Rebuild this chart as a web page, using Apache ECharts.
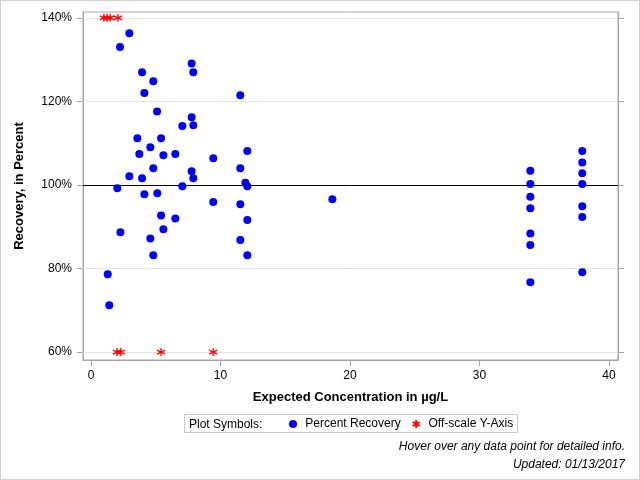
<!DOCTYPE html>
<html>
<head>
<meta charset="utf-8">
<script src="https://cdn.jsdelivr.net/npm/echarts@6/dist/echarts.min.js"></script>
<style>
  html, body { margin: 0; padding: 0; background: #fff; }
  #chart { width: 640px; height: 480px; }
</style>
</head>
<body>
<div id="chart"></div>
<script>
// tick labels
const xTicks = [0, 10, 20, 30, 40]
const yTicks = [60, 80, 100, 120, 140]

// percent recovery (blue dots)
const recConc = [
  2.96, 2.24, 7.77, 7.9, 3.94, 4.81, 4.12, 11.53, 5.1, 7.77,
  7.05, 7.9, 3.58, 5.41, 4.58, 3.73, 5.59, 6.51, 9.44, 12.07,
  4.81, 11.53, 2.96, 3.94, 7.77, 7.9, 11.92, 12.07, 7.05, 2.03,
  4.12, 5.12, 9.44, 11.53, 12.07, 5.41, 6.51, 5.59, 2.27, 4.58,
  11.53, 4.81, 12.07, 1.29, 1.41, 18.64,
  33.93, 33.93, 33.93, 33.93, 33.93, 33.93, 33.93,
  37.94, 37.94, 37.94, 37.94, 37.94, 37.94, 37.94
]
const recPct = [
  136.3, 133.0, 129.1, 127.0, 127.0, 124.8, 122.0, 121.5, 117.6, 116.2,
  114.1, 114.3, 111.2, 111.2, 109.0, 107.4, 107.1, 107.4, 106.4, 108.1,
  104.0, 104.0, 102.1, 101.6, 103.3, 101.6, 100.5, 99.7, 99.7, 99.2,
  97.8, 98.0, 95.9, 95.4, 91.6, 92.7, 92.0, 89.4, 88.7, 87.2,
  86.8, 83.2, 83.2, 78.6, 71.2, 96.6,
  103.4, 100.2, 97.2, 94.4, 88.4, 85.6, 76.7,
  108.1, 105.4, 102.8, 100.2, 94.9, 92.3, 79.1
]

// off-scale values (red asterisks), pinned to the axis ends
const offConc = [1.0, 1.24, 1.47, 2.08, 2.0, 2.3, 5.41, 9.44]
const offPct = [140, 140, 140, 140, 60, 60, 60, 60]

const gridLines = [60, 80, 120, 140]
const refLine = 100

const font = 'Liberation Sans, Arial, sans-serif'
const asterisk = 'path://M0,-1L0,1M-0.87,-0.5L0.87,0.5M-0.87,0.5L0.87,-0.5'

const chart = echarts.init(document.getElementById('chart'), null, { renderer: 'canvas' })

chart.setOption({
  backgroundColor: '#fff',
  animation: false,
  textStyle: { fontFamily: font },
  grid: {
    left: 83,
    right: 22,
    top: 12,
    bottom: 120,
    show: true,
    borderColor: '#a5a5a5',
    borderWidth: 1,
    backgroundColor: 'transparent'
  },
  xAxis: {
    type: 'value',
    min: -0.62,
    max: 40.7,
    name: 'Expected Concentration in µg/L',
    nameLocation: 'middle',
    nameGap: 31,
    nameTextStyle: { fontFamily: font, fontSize: 13, fontWeight: 'bold', color: '#000' },
    axisLine: { show: true, onZero: false, lineStyle: { color: '#a5a5a5' } },
    axisTick: { show: true, inside: false, length: 6, customValues: xTicks, lineStyle: { color: '#a5a5a5' } },
    axisLabel: { customValues: xTicks, margin: 10, fontSize: 12, color: '#000', fontFamily: font },
    splitLine: { show: false }
  },
  yAxis: [
    {
      type: 'value',
      min: 58.1,
      max: 141.4,
      name: 'Recovery, in Percent',
      nameLocation: 'middle',
      nameGap: 57,
      nameTextStyle: { fontFamily: font, fontSize: 13, fontWeight: 'bold', color: '#000' },
      axisLine: { show: true, onZero: false, lineStyle: { color: '#a5a5a5' } },
      axisTick: { show: true, length: 6, customValues: yTicks, lineStyle: { color: '#a5a5a5' } },
      axisLabel: {
        customValues: yTicks,
        margin: 11,
        fontSize: 12,
        color: '#000',
        fontFamily: font,
        formatter: (v) => v + '%'
      },
      splitLine: { show: false }
    },
    {
      type: 'value',
      position: 'right',
      min: 58.1,
      max: 141.4,
      axisLine: { show: true, onZero: false, lineStyle: { color: '#a5a5a5' } },
      axisTick: { show: true, length: 6, customValues: yTicks, lineStyle: { color: '#a5a5a5' } },
      axisLabel: { show: false },
      splitLine: { show: false }
    }
  ],
  legend: {
    left: 289,
    top: 418,
    padding: 0,
    itemWidth: 8,
    itemHeight: 8,
    itemGap: 11,
    formatter: (name) => ' ' + name,
    textStyle: { fontFamily: font, fontSize: 12, color: '#000' },
    selectedMode: false,
    data: ['Percent Recovery', 'Off-scale Y-Axis']
  },
  graphic: [
    {
      type: 'rect',
      silent: true,
      shape: { x: 0.5, y: 0.5, width: 639, height: 479 },
      style: { fill: 'none', stroke: '#d0d0d0', lineWidth: 1 }
    },
    {
      type: 'rect',
      silent: true,
      shape: { x: 184.5, y: 414.5, width: 333, height: 18 },
      style: { fill: 'none', stroke: '#c8c8c8', lineWidth: 1 }
    },
    {
      type: 'text',
      x: 189,
      y: 425,
      style: { text: 'Plot Symbols:', font: '12px ' + font, fill: '#000', verticalAlign: 'middle' }
    },
    {
      type: 'text',
      x: 625,
      y: 447,
      style: { text: 'Hover over any data point for detailed info.', font: 'italic 12px ' + font, fill: '#000', align: 'right', verticalAlign: 'middle' }
    },
    {
      type: 'text',
      x: 625,
      y: 465,
      style: { text: 'Updated: 01/13/2017', font: 'italic 12px ' + font, fill: '#000', align: 'right', verticalAlign: 'middle' }
    }
  ],
  series: [
    {
      name: 'Percent Recovery',
      type: 'scatter',
      symbol: 'circle',
      symbolSize: 8,
      itemStyle: { color: '#0000ff', opacity: 1 },
      z: 3,
      data: recConc.map((x, i) => [x, recPct[i]]),
      markLine: {
        silent: true,
        symbol: 'none',
        label: { show: false },
        z: 1,
        data: gridLines.map((v) => ({ yAxis: v, lineStyle: { color: '#e3e3e3', width: 1, type: 'solid' } }))
          .concat([{ yAxis: refLine, lineStyle: { color: '#000', width: 1, type: 'solid' } }])
      }
    },
    {
      name: 'Off-scale Y-Axis',
      type: 'scatter',
      symbol: asterisk,
      symbolSize: 8,
      itemStyle: { color: 'rgba(0,0,0,0)', borderColor: '#ff0000', borderWidth: 1.3, opacity: 1 },
      z: 4,
      data: offConc.map((x, i) => [x, offPct[i]])
    }
  ]
})
</script>
</body>
</html>
